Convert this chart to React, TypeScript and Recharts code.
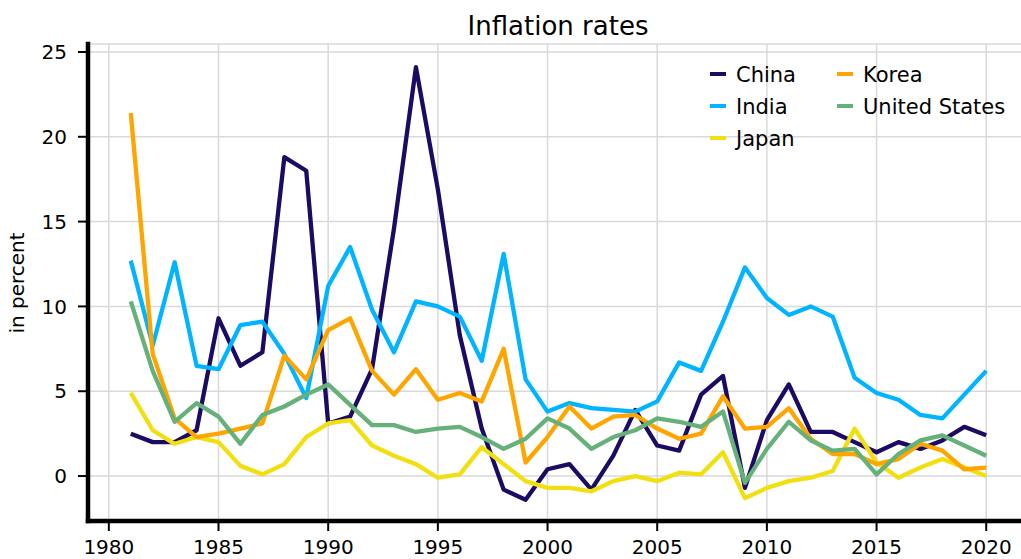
import { LineChart, Line, XAxis, YAxis, CartesianGrid } from "recharts";

const years = [
  1981, 1982, 1983, 1984, 1985, 1986, 1987, 1988, 1989, 1990,
  1991, 1992, 1993, 1994, 1995, 1996, 1997, 1998, 1999, 2000,
  2001, 2002, 2003, 2004, 2005, 2006, 2007, 2008, 2009, 2010,
  2011, 2012, 2013, 2014, 2015, 2016, 2017, 2018, 2019, 2020,
];

const china = [
  2.5, 2.0, 2.0, 2.7, 9.3, 6.5, 7.3, 18.8, 18.0, 3.1,
  3.5, 6.3, 14.6, 24.1, 16.9, 8.3, 2.8, -0.8, -1.4, 0.4,
  0.7, -0.8, 1.2, 3.9, 1.8, 1.5, 4.8, 5.9, -0.7, 3.3,
  5.4, 2.6, 2.6, 2.0, 1.4, 2.0, 1.6, 2.1, 2.9, 2.4,
];
const india = [
  12.7, 7.7, 12.6, 6.5, 6.3, 8.9, 9.1, 7.2, 4.6, 11.2,
  13.5, 9.8, 7.3, 10.3, 10.0, 9.4, 6.8, 13.1, 5.7, 3.8,
  4.3, 4.0, 3.9, 3.8, 4.4, 6.7, 6.2, 9.1, 12.3, 10.5,
  9.5, 10.0, 9.4, 5.8, 4.9, 4.5, 3.6, 3.4, 4.8, 6.2,
];
const japan = [
  4.9, 2.7, 1.9, 2.3, 2.0, 0.6, 0.1, 0.7, 2.3, 3.1,
  3.3, 1.8, 1.2, 0.7, -0.1, 0.1, 1.7, 0.7, -0.3, -0.7,
  -0.7, -0.9, -0.3, 0.0, -0.3, 0.2, 0.1, 1.4, -1.3, -0.7,
  -0.3, -0.1, 0.3, 2.8, 0.8, -0.1, 0.5, 1.0, 0.5, 0.0,
];
const korea = [
  21.4, 7.2, 3.4, 2.3, 2.5, 2.8, 3.1, 7.1, 5.7, 8.6,
  9.3, 6.2, 4.8, 6.3, 4.5, 4.9, 4.4, 7.5, 0.8, 2.3,
  4.1, 2.8, 3.5, 3.6, 2.8, 2.2, 2.5, 4.7, 2.8, 2.9,
  4.0, 2.2, 1.3, 1.3, 0.7, 1.0, 1.9, 1.5, 0.4, 0.5,
];
const us = [
  10.3, 6.2, 3.2, 4.3, 3.5, 1.9, 3.6, 4.1, 4.8, 5.4,
  4.2, 3.0, 3.0, 2.6, 2.8, 2.9, 2.3, 1.6, 2.2, 3.4,
  2.8, 1.6, 2.3, 2.7, 3.4, 3.2, 2.9, 3.8, -0.4, 1.6,
  3.2, 2.1, 1.5, 1.6, 0.1, 1.3, 2.1, 2.4, 1.8, 1.2,
];

const xTicks = [1980, 1985, 1990, 1995, 2000, 2005, 2010, 2015, 2020];
const yTicks = [0, 5, 10, 15, 20, 25];

const series = [
  { key: "China", values: china, color: "#1c0a63" },
  { key: "India", values: india, color: "#00b4ff" },
  { key: "Japan", values: japan, color: "#f2df10" },
  { key: "Korea", values: korea, color: "#ffa500" },
  { key: "United States", values: us, color: "#66b07a" },
];

const data = years.map((year, i) => {
  const row: any = { year };
  series.forEach((s) => (row[s.key] = s.values[i]));
  return row;
});

const font = "'DejaVu Sans', sans-serif";

// legend: two columns filled top to bottom, no frame
function LegendBox({ x, y }: { x: number; y: number }) {
  const cols = [series.slice(0, 3), series.slice(3)];
  return (
    <g transform={`translate(${x}, ${y})`}>
      {cols.map((col, c) =>
        col.map((s, r) => (
          <g key={s.key}>
            <line
              x1={c * 127}
              x2={c * 127 + 16}
              y1={r * 32}
              y2={r * 32}
              stroke={s.color}
              strokeWidth={4}
            />
            <text x={c * 127 + 26} y={7.5 + r * 32} fontSize={21} fontFamily={font} fill="#000">
              {s.key}
            </text>
          </g>
        ))
      )}
    </g>
  );
}

export default function App() {
  return (
    <div
      style={{
        position: "absolute",
        left: 0,
        top: 0,
        width: 1021,
        height: 559,
        overflow: "hidden",
        background: "#fff",
      }}
    >
      <LineChart
        width={1029}
        height={559}
        data={data}
        margin={{ top: 44, right: 0, bottom: 0, left: 0 }}
      >
        <CartesianGrid stroke="#d9d9d9" strokeWidth={1.5} />
        <XAxis
          dataKey="year"
          type="number"
          domain={[1979.05, 2021.95]}
          ticks={xTicks}
          allowDataOverflow
          height={38}
          axisLine={{ stroke: "#000", strokeWidth: 4.5, strokeLinecap: "square" }}
          tickLine={{ stroke: "#000", strokeWidth: 2 }}
          tickSize={10}
          tickMargin={9}
          tick={{ fill: "#000", fontSize: 20, fontFamily: font }}
        />
        <YAxis
          type="number"
          domain={[-2.65, 25.47]}
          ticks={yTicks}
          allowDataOverflow
          width={88}
          axisLine={{ stroke: "#000", strokeWidth: 4.5, strokeLinecap: "square" }}
          tickLine={{ stroke: "#000", strokeWidth: 2 }}
          tickSize={10}
          tickMargin={11}
          tick={{ fill: "#000", fontSize: 20, fontFamily: font }}
        />
        {series.map((s) => (
          <Line
            key={s.key}
            dataKey={s.key}
            stroke={s.color}
            strokeWidth={4.3}
            strokeLinejoin="round"
            dot={false}
            activeDot={false}
            isAnimationActive={false}
          />
        ))}
      </LineChart>
      <svg
        width={1021}
        height={559}
        style={{ position: "absolute", left: 0, top: 0, pointerEvents: "none" }}
      >
        <text x={558} y={35} textAnchor="middle" fontSize={26} fontFamily={font} fill="#000">
          Inflation rates
        </text>
        <text
          x={24}
          y={283}
          textAnchor="middle"
          fontSize={20}
          fontFamily={font}
          fill="#000"
          transform="rotate(-90, 24, 283)"
        >
          in percent
        </text>
        <LegendBox x={710} y={74} />
      </svg>
    </div>
  );
}
